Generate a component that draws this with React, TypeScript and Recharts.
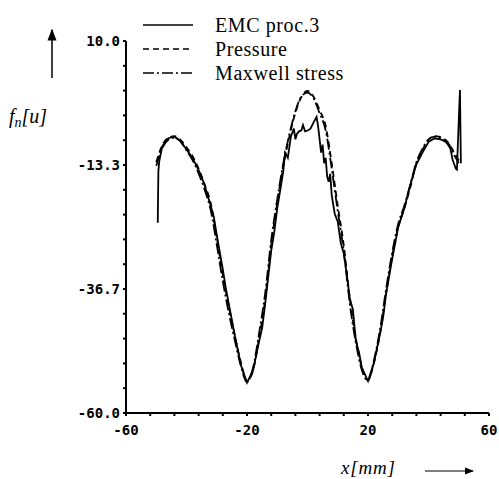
import React from 'react';
import { LineChart, Line, XAxis, YAxis } from 'recharts';

// smooth curves, sampled every 2 mm
const xSmooth = [
  -50, -48, -46, -44, -42, -40, -38, -36, -34, -32, -30, -28, -26, -24, -22, -20, -18, -16, -14, -12, -10,
  -8, -6, -4, -2, 0, 2, 4, 6, 8, 10, 12, 14, 16, 18, 20, 22, 24, 26, 28, 30, 32, 34, 36, 38, 40, 42, 44,
  46, 48, 50,
];
const pressure = [
  -12.8, -9.6, -8.2, -7.9, -8.6, -10.0, -11.7, -14.0, -17.0, -20.5, -27.0, -34.0, -40.0, -45.5, -50.5,
  -54.0, -52.0, -46.0, -38.7, -28.5, -20.5, -13.5, -8.0, -3.5, -0.5, 0.6, -0.5, -3.0, -6.0, -13.0,
  -21.0, -28.5, -38.5, -46.0, -51.5, -53.8, -50.5, -45.0, -37.5, -30.5, -25.0, -21.5, -17.5, -13.0,
  -10.5, -8.6, -7.9, -8.1, -8.8, -10.5, -12.5,
];
const maxwell = [
  -13.5, -10.2, -8.6, -8.2, -8.9, -10.6, -12.4, -14.9, -18.0, -21.8, -28.3, -35.2, -41.2, -46.4, -51.2,
  -54.2, -51.5, -45.0, -37.5, -27.5, -19.8, -13.0, -7.6, -3.2, -0.4, 0.3, -0.8, -3.6, -6.8, -14.0,
  -22.0, -29.6, -39.5, -46.8, -52.0, -53.9, -50.0, -44.2, -36.6, -29.8, -24.4, -21.0, -17.0, -12.8,
  -10.3, -8.5, -8.0, -8.3, -9.2, -11.0, -13.0,
];

// EMC proc.3, the noisy one
const xEmc = [
  -49.5, -49.3, -49, -48, -46, -44, -42, -40, -38, -36, -35, -34, -32, -31, -30, -28, -27, -26, -24, -22,
  -20, -18, -16, -15, -14, -12, -11, -10, -9, -8, -7.4, -6.5, -5.5, -4.5, -4, -3.5, -2.8, -2, -1.5,
  -0.8, 0.2, 1, 2, 3, 3.5, 4, 4.5, 5, 5.5, 6, 6.5, 7, 7.5, 8, 9, 10, 11, 12, 13, 14, 15, 16, 17, 18,
  20, 22, 24, 25, 26, 28, 30, 32, 34, 36, 38, 40, 42, 44, 46, 47, 48, 49, 49.4, 50, 50.4, 50.7,
];
const emc = [
  -24.2, -14.5, -12.6, -9.8, -8.3, -8.0, -8.8, -10.4, -12.0, -14.3, -15.6, -17.2, -21.0, -23.0, -26.5,
  -33.0, -36.5, -39.5, -45.5, -51.0, -54.3, -52.0, -46.5, -44.0, -39.5, -29.5, -26.0, -21.5, -18.0,
  -14.5, -11.0, -12.0, -8.0, -6.5, -8.5, -7.5, -7.0, -6.8, -5.8, -7.0, -6.8, -6.5, -5.3, -4.3, -6.0,
  -8.5, -11.0, -9.5, -13.0, -12.0, -15.5, -16.5, -15.0, -19.0, -22.5, -24.0, -28.0, -30.0, -34.0,
  -38.5, -40.5, -46.5, -48.5, -51.5, -54.0, -50.5, -45.0, -42.0, -37.5, -31.0, -25.0, -21.5, -17.0,
  -13.2, -11.0, -9.0, -8.3, -8.5, -9.0, -9.6, -12.4, -14.0, -14.2, -5.0, 0.8, -13.0,
];

const xTicks = [-60, -52, -44, -36, -28, -20, -12, -4, 4, 12, 20, 28, 36, 44, 52, 60];
const xLabels = [-60, -20, 20, 60];
const yTicks = [
  -60, -55.33, -50.67, -46, -41.33, -36.67, -32, -27.33, -22.67, -18, -13.33, -8.67, -4, 0.67, 5.33, 10,
];
const yLabels = [-60, -36.67, -13.33, 10];

const seriesNames = ['EMC proc.3', 'Pressure', 'Maxwell stress'];
const dashes = ['', '6 4', '11 3 2 3'];

const toPoints = (xs: number[], ys: number[]) => xs.map((x, i) => ({ x, y: ys[i] }));

const tickFont = {
  fontFamily: 'DejaVu Sans Mono',
  fontWeight: 'bold' as const,
  fontSize: 14,
  fill: '#000',
};

const serif = { fontFamily: 'Liberation Serif', fill: '#000' };

export default function App() {
  return (
    <div style={{ position: 'absolute', left: 0, top: 0, width: 499, height: 479, background: '#fff' }}>
      <LineChart width={499} height={479} margin={{ top: 41, right: 10, bottom: 36, left: 66 }}>
        <XAxis
          type="number"
          dataKey="x"
          domain={[-60, 60]}
          ticks={xTicks}
          interval={0}
          tickSize={3}
          tickMargin={9}
          height={30}
          stroke="#000"
          strokeWidth={2}
          tick={tickFont}
          tickFormatter={(v: number) => (xLabels.includes(v) ? String(v) : '')}
          allowDuplicatedCategory={false}
        />
        <YAxis
          type="number"
          dataKey="y"
          domain={[-60, 10]}
          ticks={yTicks}
          interval={0}
          tickSize={3}
          tickMargin={3}
          width={60}
          stroke="#000"
          strokeWidth={2}
          tick={tickFont}
          tickFormatter={(v: number) => (yLabels.includes(v) ? v.toFixed(1) : '')}
        />
        <Line
          data={toPoints(xSmooth, pressure)}
          dataKey="y"
          name={seriesNames[1]}
          stroke="#000"
          strokeWidth={1.8}
          strokeDasharray={dashes[1]}
          dot={false}
          type="monotone"
          isAnimationActive={false}
        />
        <Line
          data={toPoints(xSmooth, maxwell)}
          dataKey="y"
          name={seriesNames[2]}
          stroke="#000"
          strokeWidth={1.8}
          strokeDasharray={dashes[2]}
          dot={false}
          type="monotone"
          isAnimationActive={false}
        />
        <Line
          data={toPoints(xEmc, emc)}
          dataKey="y"
          name={seriesNames[0]}
          stroke="#000"
          strokeWidth={1.8}
          dot={false}
          type="linear"
          isAnimationActive={false}
        />
      </LineChart>
      <svg width={499} height={479} style={{ position: 'absolute', left: 0, top: 0, pointerEvents: 'none' }}>
        <defs>
          <marker id="ah" markerWidth="8" markerHeight="8" refX="7" refY="4" orient="auto">
            <path d="M0,1 L8,4 L0,7 z" fill="#000" />
          </marker>
        </defs>
        {seriesNames.map((name, i) => (
          <g key={name}>
            <line
              x1={143}
              x2={193}
              y1={25 + i * 24}
              y2={25 + i * 24}
              stroke="#000"
              strokeWidth={1.6}
              strokeDasharray={dashes[i]}
            />
            <text x={215} y={32 + i * 24} {...serif} fontSize={20} letterSpacing={0.6}>
              {name}
            </text>
          </g>
        ))}
        <line x1={52} y1={78} x2={52} y2={30} stroke="#000" strokeWidth={1.5} markerEnd="url(#ah)" />
        <text x={9} y={123} {...serif} fontStyle="italic" fontSize={20}>
          f<tspan fontSize={14} dy={4}>n</tspan>
          <tspan dy={-4}>[u]</tspan>
        </text>
        <line x1={425} y1={471} x2={473} y2={471} stroke="#000" strokeWidth={1.2} markerEnd="url(#ah)" />
        <text x={341} y={474} {...serif} fontStyle="italic" fontSize={19} letterSpacing={0.8}>
          x[mm]
        </text>
      </svg>
    </div>
  );
}
